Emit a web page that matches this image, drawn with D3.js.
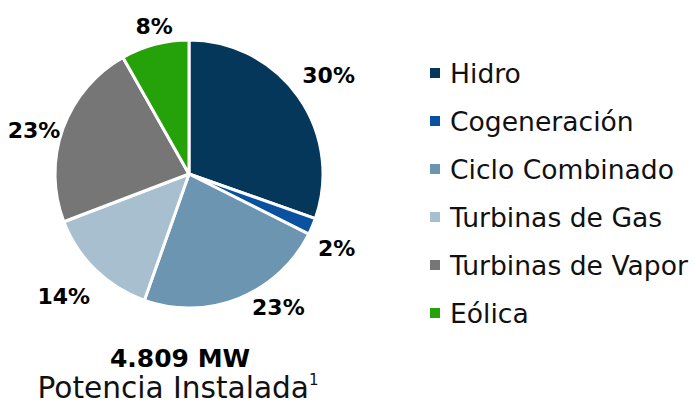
<!DOCTYPE html>
<html>
<head>
<meta charset="utf-8">
<script src="https://cdn.jsdelivr.net/npm/d3@7"></script>
<style>
  html, body { margin: 0; padding: 0; background: #fff; }
  svg { display: block; }
</style>
</head>
<body>
<svg id="chart" width="696" height="409"></svg>
<script>
const categories = ["Hidro", "Cogeneración", "Ciclo Combinado", "Turbinas de Gas", "Turbinas de Vapor", "Eólica"];
const shares = [30.4, 2.0, 23.0, 13.8, 22.6, 8.2];
const colors = ["#04375a", "#0a52a0", "#6b95b0", "#a7bfcf", "#767676", "#25a10a"];
const totalLabel = "4.809 MW";
const subtitle = "Potencia Instalada";

const svg = d3.select("#chart");
const cx = 189, cy = 174, R = 134;
const font = "'DejaVu Sans', sans-serif";

const pie = d3.pie().sort(null).value(d => d)(shares);
const arc = d3.arc().innerRadius(0).outerRadius(R);

const g = svg.append("g").attr("transform", `translate(${cx},${cy})`);
g.selectAll("path").data(pie).join("path")
  .attr("d", arc)
  .attr("fill", (d, i) => colors[i])
  .attr("stroke", "#fff")
  .attr("stroke-width", 3)
  .attr("stroke-linejoin", "round");

// label placement (Excel best-fit style)
const labelR = [171, 165, 160, 175, 161, 152];
const angleNudge = [0, 3.5, -12, 1.4, -4, 1.5];
g.selectAll("text.pct").data(pie).join("text")
  .attr("class", "pct")
  .attr("transform", (d, i) => {
    const a = ((d.startAngle + d.endAngle) / 2) + angleNudge[i] * Math.PI / 180;
    return `translate(${labelR[i] * Math.sin(a)},${-labelR[i] * Math.cos(a)})`;
  })
  .attr("text-anchor", "middle")
  .attr("dy", "0.36em")
  .attr("font-family", font)
  .attr("font-weight", "bold")
  .attr("font-size", 22)
  .attr("fill", "#000")
  .text(d => Math.round(d.value) + "%");

// legend
const ly = d3.scalePoint().domain(categories).range([73, 313]);
const leg = svg.append("g");
leg.selectAll("rect").data(categories).join("rect")
  .attr("x", 430).attr("y", d => ly(d) - 5)
  .attr("width", 10).attr("height", 10)
  .attr("fill", (d, i) => colors[i]);
leg.selectAll("text").data(categories).join("text")
  .attr("x", 450).attr("y", d => ly(d))
  .attr("dy", "0.36em")
  .attr("font-family", font)
  .attr("font-size", 26.6)
  .attr("fill", "#111")
  .text(d => d);

// bottom text
svg.append("text")
  .attr("x", 180).attr("y", 367)
  .attr("text-anchor", "middle")
  .attr("font-family", font)
  .attr("font-weight", "bold")
  .attr("font-size", 25)
  .attr("fill", "#000")
  .text(totalLabel);
const sub = svg.append("text")
  .attr("x", 178).attr("y", 398)
  .attr("text-anchor", "middle")
  .attr("font-family", font)
  .attr("font-size", 29.6)
  .attr("fill", "#111");
sub.append("tspan").text(subtitle);
sub.append("tspan").attr("font-size", 15).attr("dy", -13).text("1");
</script>
</body>
</html>
